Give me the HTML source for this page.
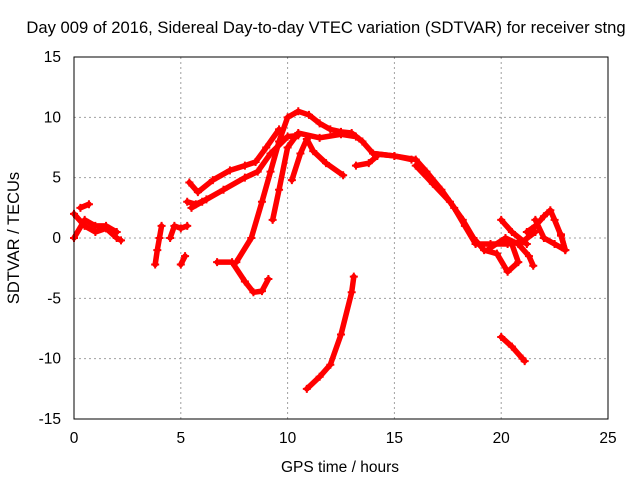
<!DOCTYPE html>
<html><head><meta charset="utf-8"><style>
body{margin:0;background:#fff}
svg text{font-family:"Liberation Sans",sans-serif;font-size:15.5px;fill:#000}
</style></head><body>
<svg id="chart" width="640" height="480">
<text x="326" y="33" text-anchor="middle" style="font-size:16.6px">Day 009 of 2016, Sidereal Day-to-day VTEC variation (SDTVAR) for receiver stng</text>
<text x="340" y="472" text-anchor="middle">GPS time / hours</text>
<text transform="translate(19,238) rotate(-90)" text-anchor="middle" style="font-size:16.5px">SDTVAR / TECUs</text>
<g id="grid"></g><g id="ticks"></g><g id="marks"></g>
<rect x="74" y="57" width="534" height="362" fill="none" stroke="#000"/>
</svg>
<script>
const xTicks=[0,5,10,15,20,25];
const yTicks=[-15,-10,-5,0,5,10,15];
const track1=[[0,2],[0.5,1],[1,0.5],[1.5,0.8],[2,0],[2.2,-0.2]];
const track2=[[0,0],[0.5,1.5],[1,1],[1.5,1],[2,0.5]];
const track3=[[0.3,2.5],[0.7,2.8]];
const track4=[[3.8,-2.2],[3.9,-1],[4.0,0],[4.1,1]];
const track5=[[4.5,0],[4.7,1],[5.0,0.8],[5.3,1.0]];
const track6=[[5.0,-2.2],[5.2,-1.5]];
const track7=[[5.4,4.6],[5.8,3.8],[6.5,4.8],[7.3,5.6],[8.0,6.0],[8.5,6.3],[9.0,7.5],[9.6,9.0]];
const track8=[[5.5,2.5],[6,3],[7,4],[8,5],[8.6,5.5],[9.2,7],[10,8.4],[10.5,8.5]];
const track9=[[5.3,3],[5.7,2.8],[6.2,3.2]];
const track10=[[6.7,-2],[7.4,-2],[8.0,-3.6],[8.4,-4.5],[8.8,-4.4],[9.1,-3.4]];
const track11=[[7.6,-2],[8.3,0],[8.8,3],[9.2,5.5],[9.6,8],[10.0,10],[10.5,10.5],[11,10.2],[11.5,9.5],[12,9],[12.5,8.8],[13,8.7],[13.5,8.0],[14,7],[15,6.8],[15.8,6.5]];
const track12=[[9.3,1.5],[9.6,4],[10,7.5],[10.5,8.7],[11.5,8.3],[12.5,8.6],[13.2,8.4]];
const track13=[[10.2,4.8],[10.6,7],[10.9,8.2],[11.2,7.2],[11.8,6.2],[12.6,5.2]];
const track14=[[13.2,6],[13.8,6.2],[14.2,6.8]];
const track15=[[14,7],[15,6.8],[16,6.5],[16.5,5.5],[17.2,4],[17.8,2.5],[18.3,1],[18.8,-0.5],[19.5,-0.5],[20.3,-0.5],[21,-0.3],[21.6,0.5]];
const track16=[[16,6],[16.8,4.5],[17.6,3],[18.2,1.5],[18.7,0],[19.2,-1],[19.8,-1.3],[20.3,-2.8],[20.8,-2],[20.5,-0.5]];
const track17=[[19.5,-0.8],[20.2,0],[20.8,-0.5],[21.3,-1.5],[21.5,-2.3]];
const track18=[[20.0,1.5],[20.5,0.5],[21.2,-0.5]];
const track19=[[21.2,0.5],[21.6,1],[22,1.8],[22.3,2.3],[22.5,1.5],[22.8,0.2],[23.0,-1]];
const track20=[[21.6,1.5],[22,0],[22.5,-0.5],[23,-1],[22.8,0.3]];
const track21=[[10.9,-12.5],[11.5,-11.5],[12,-10.5],[12.5,-8],[13,-4.5],[13.1,-3.2]];
const track22=[[20,-8.2],[20.5,-9],[21,-10],[21.1,-10.2]];
const tracks=[track1,track2,track3,track4,track5,track6,track7,track8,track9,track10,track11,track12,track13,track14,track15,track16,track17,track18,track19,track20,track21,track22];
const NS="http://www.w3.org/2000/svg";
const X=v=>74+(v-0)*(534/25);
const Y=v=>238-v*(362/30);
function mk(tag,parent){const e=document.createElementNS(NS,tag);parent.appendChild(e);return e;}
const grid=document.getElementById('grid'),ticks=document.getElementById('ticks'),marks=document.getElementById('marks');
xTicks.forEach(t=>{
 if(t>0&&t<25){const l=mk('line',grid);l.setAttribute('x1',X(t));l.setAttribute('x2',X(t));l.setAttribute('y1',57);l.setAttribute('y2',419);l.setAttribute('stroke','#a0a0a0');l.setAttribute('stroke-dasharray','2,3');
 
 }
 const tx=mk('text',ticks);tx.setAttribute('x',X(t));tx.setAttribute('y',443);tx.setAttribute('text-anchor','middle');tx.textContent=t;
 
 
});
yTicks.forEach(t=>{
 if(t>-15&&t<15){const l=mk('line',grid);l.setAttribute('x1',74);l.setAttribute('x2',608);l.setAttribute('y1',Y(t));l.setAttribute('y2',Y(t));l.setAttribute('stroke','#a0a0a0');l.setAttribute('stroke-dasharray','2,3');
 
 }
 const tx=mk('text',ticks);tx.setAttribute('x',61);tx.setAttribute('y',Y(t)+5);tx.setAttribute('text-anchor','end');tx.textContent=t;
 
 
});
tracks.forEach((tr,i)=>{
 const p=mk('polyline',marks);
 p.setAttribute('points',tr.map(d=>X(d[0])+','+Y(d[1])).join(' '));
 p.setAttribute('fill','none');p.setAttribute('stroke','#ff0000');p.setAttribute('stroke-width','5.5');p.setAttribute('stroke-linejoin','round');p.setAttribute('stroke-linecap','round');
 
 
 tr.forEach(d=>{
  const m=mk('path',marks);const x=X(d[0]),y=Y(d[1]);
  m.setAttribute('d',`M${x-4},${y}H${x+4}M${x},${y-4}V${y+4}`);m.setAttribute('stroke','#ff0000');m.setAttribute('stroke-width','2');
  
  
 });
});
</script>
</body></html>
